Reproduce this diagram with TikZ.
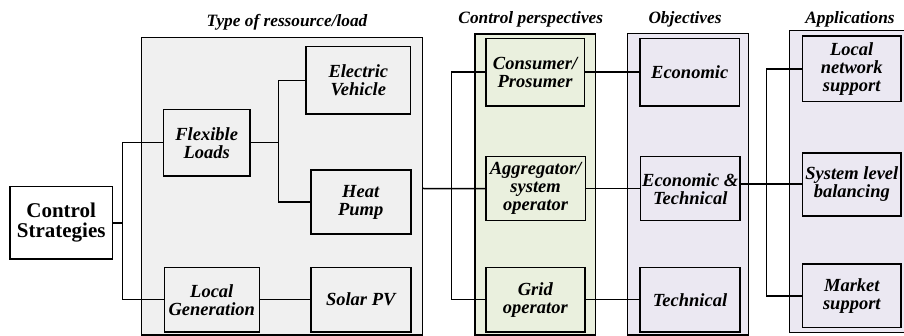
\documentclass[tikz,border=0pt]{standalone}
\usepackage{fontspec}
\setmainfont{Liberation Serif}
\definecolor{resgray}{RGB}{240,240,240}
\definecolor{pgreen}{RGB}{234,240,222}
\definecolor{lav}{RGB}{235,232,242}
\tikzset{
  container/.style={draw=black, line width=1.4pt, inner sep=0pt},
  itembox/.style={draw=black, line width=1.6pt, inner sep=0pt, align=center,
    font=\fontsize{18.5}{18}\selectfont\bfseries\itshape},
  title/.style={anchor=base, inner sep=0pt, font=\fontsize{17.3}{18}\selectfont\bfseries\itshape},
  conn/.style={draw=black, line width=1.5pt}
}
\begin{document}
\begin{tikzpicture}[x=1pt,y=-1pt]
\clip (0,0) rectangle (904,336);
\fill[white] (0,0) rectangle (904,336);
% containers
\node[container, fill=resgray, minimum width=281pt, minimum height=297.5pt] (res) at (282,186.25) {};
\node[container, fill=pgreen, minimum width=120.3pt, minimum height=301pt] (per) at (535.15,184.5) {};
\node[container, fill=lav, minimum width=121pt, minimum height=301.7pt] (obj) at (687.8,184.15) {};
\node[container, fill=lav, minimum width=130pt, minimum height=302.2pt] (app) at (854.5,181.6) {};
% titles
\node[title] (t1) at (287,26.7) {Type of ressource/load};
\node[title] (t2) at (530.8,23.3) {Control perspectives};
\node[title] (t3) at (685,23.3) {Objectives};
\node[title] (t4) at (850,23.3) {Applications};
% control strategies
\node[draw=black, line width=1.6pt, fill=white, inner sep=0pt, align=center,
  minimum width=102.3pt, minimum height=72.6pt,
  font=\fontsize{21}{20}\selectfont\bfseries] (cs) at (61.2,223) {Control\\Strategies};
% resources
\node[itembox, fill=resgray, minimum width=86.7pt, minimum height=66.7pt] (fl) at (206.7,142.7) {Flexible\\Loads};
\node[itembox, fill=resgray, minimum width=104.7pt, minimum height=67.3pt] (ev) at (358.3,80.3) {Electric\\Vehicle};
\node[itembox, fill=resgray, minimum width=100pt, minimum height=64pt] (hp) at (360.7,202) {Heat\\Pump};
\node[itembox, fill=resgray, minimum width=95pt, minimum height=64pt] (lg) at (211.8,299.7) {Local\\Generation};
\node[itembox, fill=resgray, minimum width=100pt, minimum height=64pt] (pv) at (360.7,299.7) {Solar PV};
% perspectives
\node[itembox, fill=pgreen, minimum width=98.8pt, minimum height=67.7pt] (cp) at (535.1,72.2) {Consumer/\\Prosumer};
\node[itembox, fill=pgreen, minimum width=99.8pt, minimum height=64pt] (ag) at (535.6,188.7) {Aggregator/\\system\\operator};
\node[itembox, fill=pgreen, minimum width=99.3pt, minimum height=64pt] (go) at (535.35,299.7) {Grid\\operator};
% objectives
\node[itembox, fill=lav, minimum width=99.3pt, minimum height=67.7pt] (ec) at (689.7,72.2) {Economic};
\node[itembox, fill=lav, minimum width=99.5pt, minimum height=64pt] (et) at (690.2,188.7) {Economic \&\\Technical};
\node[itembox, fill=lav, minimum width=100pt, minimum height=64pt] (te) at (690,299.7) {Technical};
% applications
\node[itembox, fill=lav, minimum width=98.7pt, minimum height=65.7pt] (lns) at (851.7,68.8) {Local\\network\\support};
\node[itembox, fill=lav, minimum width=98.3pt, minimum height=63.4pt] (slb) at (851.8,184.5) {System level\\balancing};
\node[itembox, fill=lav, minimum width=98.3pt, minimum height=63pt] (ms) at (851.8,295.8) {Market\\support};
% junctions
\coordinate (j1) at (122.3,223);
\coordinate (j2) at (278.3,142.7);
\coordinate (j3) at (451.7,188.5);
\coordinate (j4) at (766.7,184);
% connectors
\draw[conn] (cs.east) -- (j1);
\draw[conn] (fl.west) -| (j1) |- (lg.west);
\draw[conn] (fl.east) -- (j2);
\draw[conn] (ev.west) -| (j2) |- (hp.west);
\draw[conn] (lg.east) -- (pv.west);
\draw[conn] (res.east |- j3) -- (ag.west);
\draw[conn] (cp.west) -| (j3) |- (go.west);
\draw[conn] (cp.east) -- (ec.west);
\draw[conn] (ag.east) -- (et.west);
\draw[conn] (go.east) -- (te.west);
\draw[conn] (et.east |- j4) -- (slb.west |- j4);
\draw[conn] (lns.west) -| (j4) |- (ms.west);
\end{tikzpicture}
\end{document}
